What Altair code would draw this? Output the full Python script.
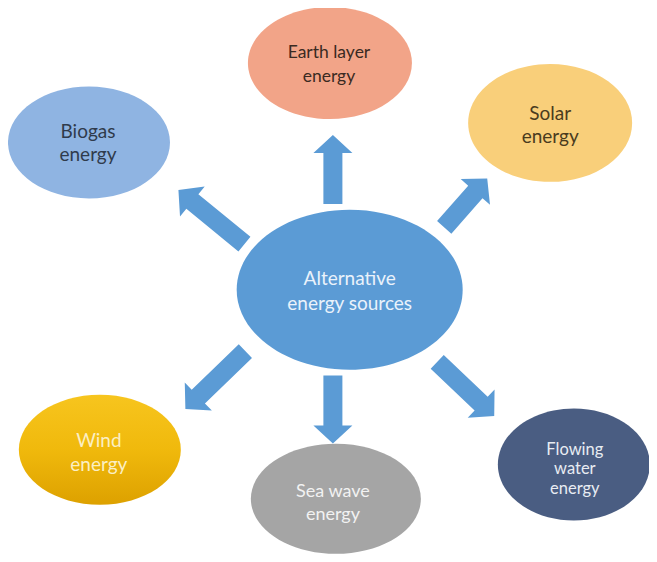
import math
import altair as alt
import pandas as pd

# ---- diagram data (pixel positions) ----
node_lines = [["Alternative", "energy sources"], ["Earth layer", "energy"], ["Solar", "energy"],
              ["Biogas", "energy"], ["Wind", "energy"], ["Sea wave", "energy"],
              ["Flowing", "water", "energy"]]
node_x = [354, 334, 557, 90, 101, 340, 581]
node_y = [294, 63, 124, 144, 457, 507, 472]
node_rx = [113, 82, 82, 81, 81, 85, 76]
node_ry = [80, 56, 59, 56, 55, 55, 56]
node_fill = ["#5B9BD5", "#F2A488", "#F9CF7A", "#8FB4E2", "#EDB60A", "#A5A5A5", "#4A5D82"]
text_x = [354, 333, 557, 89, 100, 337, 582]
text_first_y = [283, 53, 115, 133, 448, 500, 457]
text_gap = [25, 24, 23, 24, 24, 23, 20]
text_size = [19, 17.5, 19, 19, 19, 18, 16.5]
text_color = ["#EAF2FB", "#3A2A22", "#4A3B1E", "#2F3B4C", "#FBEFC4", "#F2F2F2", "#E8ECF2"]

arrow_tail_x = [337, 247, 450, 248, 337, 443]
arrow_tail_y = [206, 247, 230, 357, 382, 368]
arrow_tip_x = [337, 181, 493, 188, 337, 500]
arrow_tip_y = [137, 193, 181, 415, 450, 422]

HEAD_HALF = 19.5
SHAFT_HALF = 9.5
HEAD_LEN = 18

W, H = 641, 546
X0, Y0 = 8, 8

# ---- build tables ----
nodes = pd.DataFrame({
    "x": node_x, "y": node_y, "rx": node_rx, "ry": node_ry, "fill": node_fill,
})
nodes["size"] = (2 * nodes["rx"]) ** 2
nodes["shape"] = [
    f"M -1 0 A 1 {ry / rx:.4f} 0 1 0 1 0 A 1 {ry / rx:.4f} 0 1 0 -1 0 Z"
    for rx, ry in zip(nodes["rx"], nodes["ry"])
]

line_rows = []
for lines, tx, ty, gap, fs, col in zip(node_lines, text_x, text_first_y, text_gap,
                                       text_size, text_color):
    for i, t in enumerate(lines):
        line_rows.append({"text": t, "x": tx, "y": ty + i * gap, "fs": fs, "color": col})
text_df = pd.DataFrame(line_rows)

rows = []
for tx, ty, px, py in zip(arrow_tail_x, arrow_tail_y, arrow_tip_x, arrow_tip_y):
    dx, dy = px - tx, py - ty
    L = math.hypot(dx, dy)
    r = L / 2
    hh, sh, hb = HEAD_HALF / r, SHAFT_HALF / r, -1 + HEAD_LEN / r
    path = (f"M {-sh:.4f} 1 L {sh:.4f} 1 L {sh:.4f} {hb:.4f} L {hh:.4f} {hb:.4f} "
            f"L 0 -1 L {-hh:.4f} {hb:.4f} L {-sh:.4f} {hb:.4f} Z")
    ang = math.degrees(math.atan2(dx, -dy)) % 360
    rows.append({"x": (tx + px) / 2, "y": (ty + py) / 2, "size": L * L,
                 "angle": ang, "shape": path})
arrows = pd.DataFrame(rows)

xs = alt.Scale(domain=[X0, X0 + W], nice=False, zero=False)
ys = alt.Scale(domain=[Y0, Y0 + H], nice=False, zero=False, reverse=True)

X = alt.X("x:Q", scale=xs, axis=None)
Y = alt.Y("y:Q", scale=ys, axis=None)

flat_nodes = alt.Chart(nodes[nodes["fill"] != "#EDB60A"]).mark_point(
    filled=True, opacity=1, strokeWidth=0
).encode(
    x=X, y=Y,
    shape=alt.Shape("shape:N", scale=None),
    size=alt.Size("size:Q", scale=None),
    fill=alt.Fill("fill:N", scale=None),
)

wind_node = alt.Chart(nodes[nodes["fill"] == "#EDB60A"]).mark_point(
    filled=True, opacity=1, strokeWidth=0,
    fill=alt.Gradient(
        gradient="linear", x1=0, x2=0, y1=0, y2=1,
        stops=[alt.GradientStop(color="#F7C51E", offset=0),
               alt.GradientStop(color="#F0B90C", offset=0.5),
               alt.GradientStop(color="#DDA100", offset=1)],
    ),
).encode(
    x=X, y=Y,
    shape=alt.Shape("shape:N", scale=None),
    size=alt.Size("size:Q", scale=None),
)

arrow_layer = alt.Chart(arrows).mark_point(
    filled=True, opacity=1, strokeWidth=0, fill="#5B9BD5"
).encode(
    x=X, y=Y,
    shape=alt.Shape("shape:N", scale=None),
    size=alt.Size("size:Q", scale=None),
    angle=alt.Angle("angle:Q", scale=None),
)

labels = alt.Chart(text_df).mark_text(
    font="Lato", align="center", baseline="middle",
).encode(
    x=X, y=Y,
    text="text:N",
    size=alt.Size("fs:Q", scale=None),
    color=alt.Color("color:N", scale=None),
)

chart = alt.layer(flat_nodes, wind_node, arrow_layer, labels).properties(
    width=W, height=H, padding=0,
    autosize=alt.AutoSizeParams(type="fit", contains="padding"),
    background="white",
).configure_view(stroke=None)

chart.save("out.html", embed_options={"renderer": "svg", "actions": False})
